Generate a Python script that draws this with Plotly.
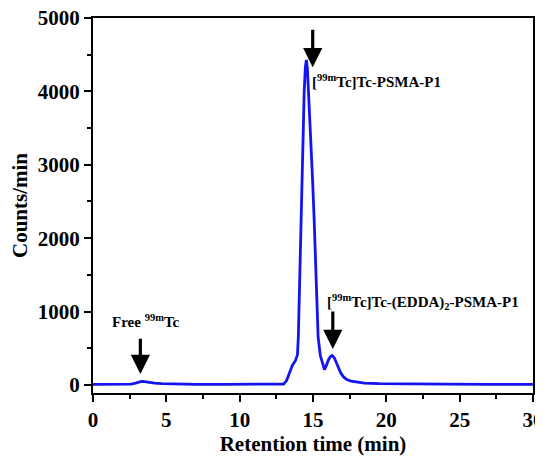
import plotly.graph_objects as go

# Retention time (min) and counts
time_min = [0, 1, 2, 2.6, 2.9, 3.1, 3.3, 3.5, 3.8, 4.2, 4.7, 5.5, 7, 9, 11, 12.5,
            13.0, 13.2, 13.4, 13.6, 13.8, 13.94, 14.0, 14.07, 14.13, 14.2, 14.3, 14.4,
            14.48, 14.55, 14.62, 14.72, 14.85, 14.97, 15.08, 15.15, 15.25, 15.35, 15.5,
            15.69, 15.78, 15.9, 16.05, 16.2, 16.3, 16.45, 16.6, 16.75, 16.9, 17.1, 17.3,
            17.6, 18.0, 18.5, 19.5, 21, 24, 27, 30]
counts = [8, 8, 8, 10, 25, 40, 48, 45, 35, 25, 18, 12, 8, 8, 10, 10,
          12, 60, 180, 270, 330, 410, 650, 1300, 1800, 2250, 3400, 4000,
          4330, 4430, 4300, 3900, 3400, 2800, 2250, 1800, 1150, 650, 400,
          245, 210, 260, 340, 390, 400, 370, 300, 230, 160, 105, 75,
          50, 35, 25, 18, 12, 10, 8, 8]

x_ticks = [0, 5, 10, 15, 20, 25, 30]
y_ticks = [0, 1000, 2000, 3000, 4000, 5000]

# annotation labels and arrow positions (x, tip y, tail y)
labels = ["Free <sup>99m</sup>Tc",
          "[<sup>99m</sup>Tc]Tc-PSMA-P1",
          "[<sup>99m</sup>Tc]Tc-(EDDA)<sub>2</sub>-PSMA-P1"]
label_pos = [(3.63, 870), (19.3, 4140), (22.5, 1125)]
arrows = [(3.23, 150, 650), (14.98, 4330, 4860), (16.35, 490, 1020)]

FONT = "Liberation Serif"

fig = go.Figure()
fig.add_trace(go.Scatter(x=time_min, y=counts, mode="lines",
                         line=dict(color="#1414f0", width=2.8),
                         showlegend=False))

for (x, tip, tail) in arrows:
    fig.add_annotation(x=x, y=tip, ax=x, ay=tail, axref="x", ayref="y",
                       xref="x", yref="y", text="", showarrow=True,
                       arrowhead=2, arrowsize=1.2, arrowwidth=3.2,
                       arrowcolor="black", standoff=0, startstandoff=0)

for txt, (x, y) in zip(labels, label_pos):
    fig.add_annotation(x=x, y=y, xref="x", yref="y", text=txt,
                       showarrow=False,
                       font=dict(family=FONT, size=15, color="black", weight="bold"))

axis_common = dict(showline=True, linecolor="black", linewidth=2, mirror=True,
                   ticks="outside", tickwidth=2, ticklen=7, tickcolor="black",
                   showgrid=False, zeroline=False, automargin=False,
                   ticklabeloverflow="allow",
                   tickfont=dict(family=FONT, size=21, color="black", weight="bold"))

fig.update_xaxes(range=[0, 30], tickvals=x_ticks,
                 minor=dict(ticks="outside", dtick=2.5, ticklen=4, tickwidth=2,
                            tickcolor="black", showgrid=False),
                 title=dict(text="Retention time (min)",
                            font=dict(family=FONT, size=21, color="black", weight="bold"),
                            standoff=10),
                 **axis_common)
fig.update_yaxes(range=[-110, 5000], tickvals=y_ticks,
                 minor=dict(ticks="outside", dtick=500, ticklen=4, tickwidth=2,
                            tickcolor="black", showgrid=False),
                 title=dict(text="Counts/min",
                            font=dict(family=FONT, size=21, color="black", weight="bold"),
                            standoff=6),
                 **axis_common)

# page body adds an 8px offset, so the figure is sized to fit inside the window
fig.update_layout(width=535, height=448,
                  margin=dict(l=85, r=10, t=10, b=63),
                  plot_bgcolor="white", paper_bgcolor="white")

fig.write_html("out.html")
